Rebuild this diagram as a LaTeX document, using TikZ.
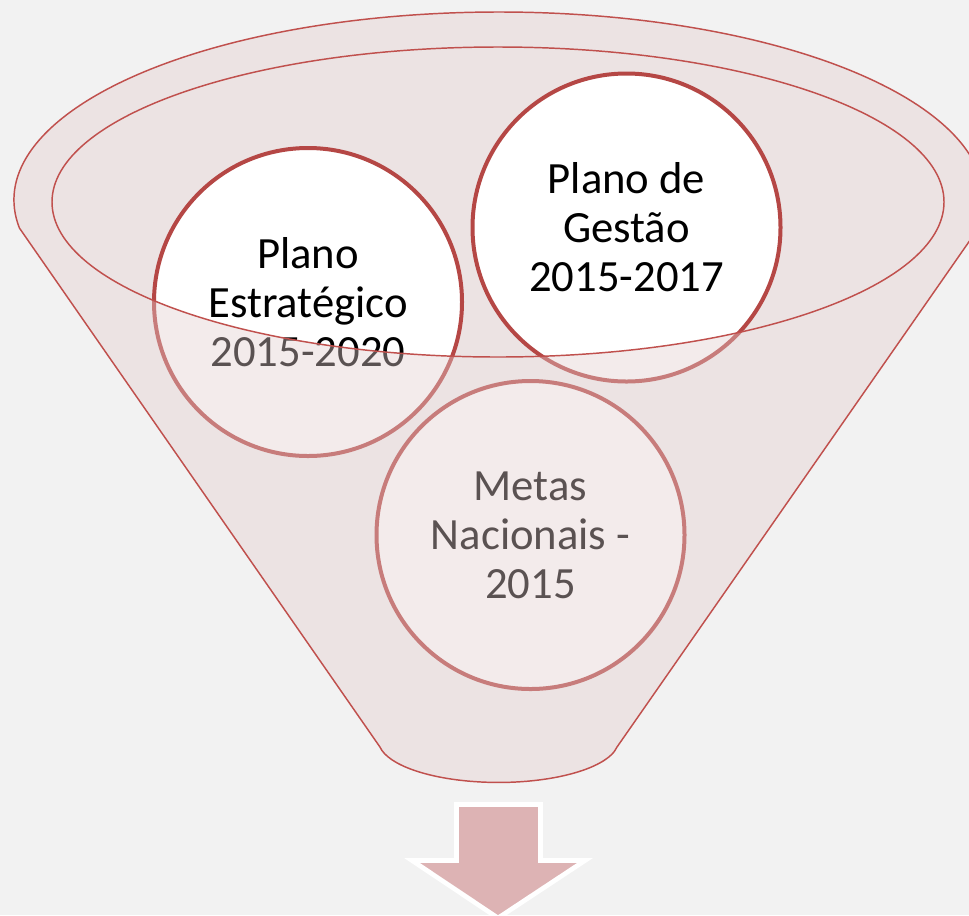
\documentclass[tikz,border=0pt]{standalone}
\usepackage{fontspec}
\setmainfont{Carlito}
\definecolor{bgc}{RGB}{242,242,242}
\definecolor{fun}{RGB}{227,205,205}
\definecolor{rim}{RGB}{192,80,77}
\definecolor{cborder}{RGB}{181,71,69}
\definecolor{arrowc}{RGB}{221,179,180}
\begin{document}
\begin{tikzpicture}[x=0.75pt,y=-0.75pt,
  tint/.style={fill=fun,fill opacity=0.4},
  rimline/.style={draw=rim,line width=1.1pt},
  circ/.style={circle,draw=cborder,line width=3pt,fill=white,minimum size=231pt,inner sep=0pt,align=center,
    font=\fontsize{33.5}{36.75}\selectfont,text=black}]
\useasboundingbox (0,0) rectangle (969,915);
\fill[bgc] (0,0) rectangle (969,915);
% back of the funnel
\fill[tint] (498,202) ellipse [x radius=446, y radius=155];
% circles
\node[circ] (pe) at (308,302) {Plano\\Estratégico\\2015-2020};
\node[circ] (pg) at (626.5,227.5) {Plano de\\Gestão\\2015-2017};
\node[circ] (mn) at (530.5,535) {Metas\\Nacionais -\\2015};
% front of the funnel
\fill[tint,even odd rule] (19.4,228) arc[start angle=171.43, end angle=368.57, x radius=485, y radius=188]
  -- (617,747) arc[start angle=9, end angle=171, x radius=120, y radius=42] -- cycle
  (498,202) ellipse [x radius=446, y radius=155];
\draw[rimline] (19.4,228) arc[start angle=171.43, end angle=368.57, x radius=485, y radius=188]
  -- (617,747) arc[start angle=9, end angle=171, x radius=120, y radius=42] -- cycle;
\draw[rimline] (498,202) ellipse [x radius=446, y radius=155];
% arrow
\draw[fill=arrowc,draw=white,line width=3.5pt,line join=miter]
  (456.5,804.5) -- (540.5,804.5) -- (540.5,860.5) -- (585,860.5) -- (498,918) -- (412,860.5) -- (456.5,860.5) -- cycle;
\end{tikzpicture}
\end{document}
